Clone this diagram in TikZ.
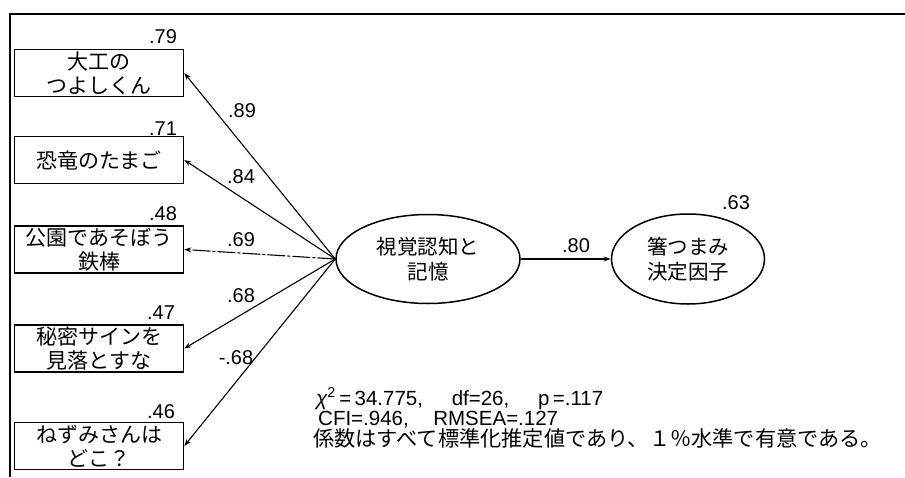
\documentclass[tikz,border=0pt]{standalone}
\usepackage{fontspec}
\setmainfont{Liberation Sans}
\newfontfamily\jp{Noto Sans CJK JP}
\usetikzlibrary{arrows.meta,shapes.geometric}
\begin{document}
\begin{tikzpicture}[x=1pt,y=-1pt,
  obs/.style={draw,line width=1.5pt,minimum width=169pt,minimum height=47pt,inner sep=0pt,align=center,font=\jp\fontsize{21}{24}\selectfont},
  lat/.style={draw,ellipse,line width=1.5pt,inner sep=0pt,align=center,font=\jp\fontsize{20.5}{25}\selectfont},
  num/.style={font=\fontsize{20}{22}\selectfont,inner sep=0pt},
  stat/.style={font=\fontsize{20.5}{22}\selectfont,inner sep=0pt,anchor=west,text height=13pt,text depth=3pt},
  pth/.style={line width=1.1pt,-{Stealth[length=7pt,width=5pt]}},
]
\useasboundingbox (0,0) rectangle (905,477);
\fill[white] (0,0) rectangle (905,477);
\draw[line width=2.4pt] (10,477) -- (10,14) -- (905,14);

% observed variables
\node[obs] (b1) at (99,73) {大工の\\つよしくん};
\node[obs] (b2) at (99,160) {恐竜のたまご};
\node[obs] (b3) at (99,249.5) {公園であそぼう\\鉄棒};
\node[obs] (b4) at (99,348.5) {秘密サインを\\見落とすな};
\node[obs] (b5) at (99,446) {ねずみさんは\\どこ？};

% latent variables
\node[lat,minimum width=184pt,minimum height=89pt] (f1) at (428,259) {視覚認知と\\記憶};
\node[lat,minimum width=153pt,minimum height=90pt] (f2) at (688,259) {箸つまみ\\決定因子};

% paths
\draw[pth] (f1.west) -- (b1.east);
\draw[pth] (f1.west) -- (b2.east);
\draw[pth,dash pattern=on 18pt off 2pt on 3pt off 2pt] (f1.west) -- (b3.east);
\draw[pth] (f1.west) -- (b4.east);
\draw[pth] (f1.west) -- (b5.east);
\draw[pth] (f1.east) -- (f2.west);

% R^2 values
\node[num] (r1) at (163,37) {.79};
\node[num] (r2) at (163,129) {.71};
\node[num] (r3) at (163,214) {.48};
\node[num] (r4) at (161,313) {.47};
\node[num] (r5) at (161,412) {.46};
\node[num] (r6) at (736,203) {.63};

% loadings
\node[num] (c1) at (242,111) {.89};
\node[num] (c2) at (241,177) {.84};
\node[num] (c3) at (241,240) {.69};
\node[num] (c4) at (241,296) {.68};
\node[num] (c5) at (236,358) {-.68};
\node[num] (c6) at (576,246) {.80};

% fit statistics
\node[stat] (s1) at (316,400) {{\itshape χ}\textsuperscript{2}\,=\,34.775,\hspace{1.4em}df=26,\hspace{1.4em}p\,=.117};
\node[stat] (s2) at (318,420) {CFI=.946,\hspace{1.2em}RMSEA=.127};
\node[stat,font=\jp\fontsize{21.2}{22}\selectfont,text height=15pt,text depth=2pt] (s3) at (313,440) {係数はすべて標準化推定値であり、１％水準で有意である。};
\end{tikzpicture}
\end{document}
